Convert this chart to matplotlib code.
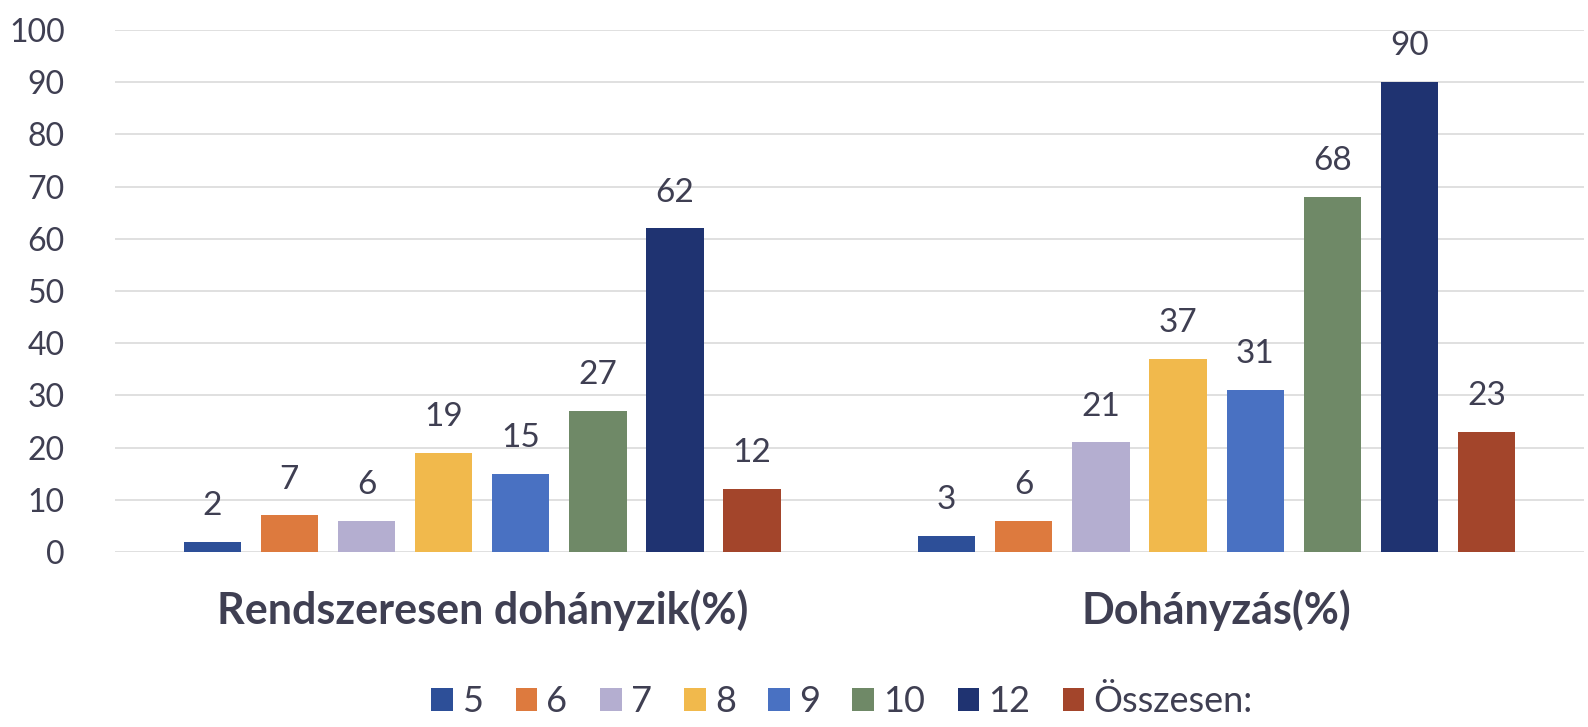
import matplotlib.pyplot as plt
import numpy as np

categories = ["Rendszeresen dohányzik(%)", "Dohányzás(%)"]
series = ["5", "6", "7", "8", "9", "10", "12", "Összesen:"]
values = [
    [2, 3],
    [7, 6],
    [6, 21],
    [19, 37],
    [15, 31],
    [27, 68],
    [62, 90],
    [12, 23],
]
colors = ["#2D4F98", "#DD7A3E", "#B4AED0", "#F1B94C", "#4971C2",
          "#6F8967", "#1F3371", "#A3452B"]

plt.rcParams['font.family'] = ['Lato', 'DejaVu Sans']
text_col = "#3F3F52"

fig = plt.figure(figsize=(15.88, 7.27), dpi=100)
ax = fig.add_axes([0.0724, 0.2407, 0.925, 0.718])

x = np.arange(len(categories))
step = 0.105
width = 0.078
for i, (name, vals, c) in enumerate(zip(series, values, colors)):
    pos = x + (i - (len(series) - 1) / 2) * step
    bars = ax.bar(pos, vals, width, color=c, label=name, zorder=3)
    for b, v in zip(bars, vals):
        ax.text(b.get_x() + b.get_width() / 2, v + 4.0, str(v),
                ha="center", va="bottom", fontsize=24, color=text_col,
                clip_on=False)

ax.set_xlim(-0.5, 1.5)
ax.set_ylim(0, 100)
ax.set_yticks(range(0, 101, 10))
ax.set_xticks(x)
ax.set_xticklabels(categories, fontsize=31, fontweight="bold", color=text_col)
ax.tick_params(axis="y", labelsize=23, labelcolor=text_col, length=0, pad=36)
ax.tick_params(axis="x", length=0, pad=27)
ax.grid(axis="y", color="#DADADA", linewidth=1.2, zorder=0)
for s in ax.spines.values():
    s.set_visible(False)

ax.legend(loc="center", bbox_to_anchor=(0.495, -0.287), ncol=8, frameon=False,
          fontsize=26, handlelength=0.6, handleheight=0.6, handletextpad=0.25,
          columnspacing=0.9, labelcolor=text_col)

fig.savefig("out.png", dpi=100)
